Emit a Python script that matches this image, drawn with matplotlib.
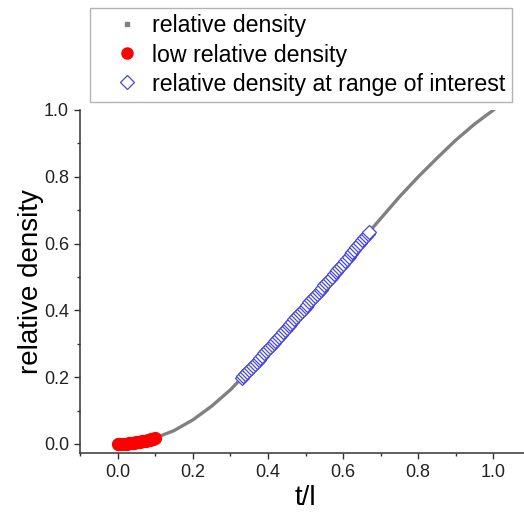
import matplotlib
matplotlib.use("Agg")
import matplotlib.pyplot as plt
from matplotlib.lines import Line2D
from matplotlib.ticker import MultipleLocator

plt.rcParams['font.family'] = ['Liberation Sans', 'DejaVu Sans']

# relative density vs. strut thickness ratio t/l
t_all = [0.00, 0.05, 0.10, 0.15, 0.20, 0.25, 0.30, 0.35, 0.40, 0.45, 0.50,
         0.55, 0.60, 0.65, 0.70, 0.75, 0.80, 0.85, 0.90, 0.95, 1.00]
rho_all = [0.000, 0.004, 0.018, 0.040, 0.072, 0.113, 0.162, 0.221, 0.283, 0.347, 0.411,
           0.475, 0.540, 0.610, 0.675, 0.740, 0.800, 0.856, 0.910, 0.958, 1.000]

# low relative density region
t_low = [0.000, 0.005, 0.010, 0.015, 0.020, 0.025, 0.030, 0.035, 0.040, 0.045, 0.050,
         0.055, 0.060, 0.065, 0.070, 0.075, 0.080, 0.085, 0.090, 0.095, 0.100]
rho_low = [0.0000, 0.0001, 0.0002, 0.0004, 0.0007, 0.0011, 0.0016, 0.0022, 0.0030, 0.0037, 0.0045,
           0.0055, 0.0065, 0.0077, 0.0090, 0.0102, 0.0115, 0.0130, 0.0145, 0.0162, 0.0180]

# range of interest
t_roi = [0.330, 0.335, 0.340, 0.345, 0.350, 0.355, 0.360, 0.365, 0.370, 0.375,
         0.380, 0.385, 0.390, 0.395, 0.400, 0.405, 0.410, 0.415, 0.420, 0.425,
         0.430, 0.435, 0.440, 0.445, 0.450, 0.455, 0.460, 0.465, 0.470, 0.475,
         0.480, 0.485, 0.490, 0.495, 0.500, 0.505, 0.510, 0.515, 0.520, 0.525,
         0.530, 0.535, 0.540, 0.545, 0.550, 0.555, 0.560, 0.565, 0.570, 0.575,
         0.580, 0.585, 0.590, 0.595, 0.600, 0.605, 0.610, 0.615, 0.620, 0.625,
         0.630, 0.635, 0.640, 0.645, 0.650, 0.655, 0.660, 0.665, 0.670]
rho_roi = [0.1980, 0.2035, 0.2090, 0.2150, 0.2210, 0.2270, 0.2330, 0.2395, 0.2460, 0.2520,
           0.2580, 0.2645, 0.2710, 0.2770, 0.2830, 0.2895, 0.2960, 0.3025, 0.3090, 0.3150,
           0.3210, 0.3275, 0.3340, 0.3405, 0.3470, 0.3535, 0.3600, 0.3665, 0.3730, 0.3790,
           0.3850, 0.3915, 0.3980, 0.4045, 0.4110, 0.4175, 0.4240, 0.4305, 0.4370, 0.4430,
           0.4490, 0.4555, 0.4620, 0.4685, 0.4750, 0.4815, 0.4880, 0.4945, 0.5010, 0.5075,
           0.5140, 0.5205, 0.5270, 0.5335, 0.5400, 0.5470, 0.5540, 0.5610, 0.5680, 0.5750,
           0.5820, 0.5890, 0.5960, 0.6030, 0.6100, 0.6165, 0.6230, 0.6295, 0.6360]

x_ticks = [0.0, 0.2, 0.4, 0.6, 0.8, 1.0]
y_ticks = [0.0, 0.2, 0.4, 0.6, 0.8, 1.0]

W, H = 524, 519
fig = plt.figure(figsize=(W / 100, H / 100), dpi=100)
fig.patch.set_facecolor('white')
ax = fig.add_axes([80 / W, 66 / H, (531 - 80) / W, (453 - 110) / H])

gray = '#808080'
red = '#ff0000'
blue = '#4848d8'

ax.plot(t_all, rho_all, '-', color=gray, lw=2.4, zorder=1)
ax.plot(t_low, rho_low, 'o', color=red, mec=red, ms=8.5, ls='none', zorder=3)
ax.plot(t_roi, rho_roi, 'D', mfc='white', mec=blue, mew=0.9, ms=7.0, ls='none', zorder=2)

ax.set_xlim(-0.1, 1.1)
ax.set_ylim(-0.027, 1.0)
ax.set_xticks(x_ticks)
ax.set_yticks(y_ticks)
ax.xaxis.set_minor_locator(MultipleLocator(0.1))
ax.yaxis.set_minor_locator(MultipleLocator(0.1))
ax.set_xticklabels([f'{v:.1f}' for v in x_ticks])
ax.set_yticklabels([f'{v:.1f}' for v in y_ticks])

for s in ('top', 'right'):
    ax.spines[s].set_visible(False)
for s in ('left', 'bottom'):
    ax.spines[s].set_color('#333333')
    ax.spines[s].set_linewidth(1.1)
ax.tick_params(which='major', direction='out', length=4, width=1.0, color='#333333',
               labelsize=13, labelcolor='#222222', pad=4)
ax.tick_params(which='minor', direction='out', length=2.5, width=1.0, color='#333333')

ax.set_xlabel('t/l', fontsize=20, labelpad=3)
ax.set_ylabel('relative density', fontsize=20, labelpad=0)

handles = [
    Line2D([], [], ls='none', marker='s', ms=3, color=gray, mec=gray),
    Line2D([], [], ls='none', marker='o', ms=8, color=red, mec=red),
    Line2D([], [], ls='none', marker='D', ms=6.8, mfc='white', mec=blue, mew=0.9),
]
labels = ['relative density', 'low relative density', 'relative density at range of interest']
leg = fig.legend(handles, labels, loc='upper left', bbox_to_anchor=(90 / W, 1 - 8 / H),
                 fontsize=16.7, frameon=True, fancybox=False, edgecolor='#a0a0a0',
                 borderpad=0.28, labelspacing=0.26, handlelength=2.6, handletextpad=-0.22,
                 borderaxespad=0)
leg.get_frame().set_linewidth(1.0)

fig.savefig('out.png', dpi=100, facecolor='white')
